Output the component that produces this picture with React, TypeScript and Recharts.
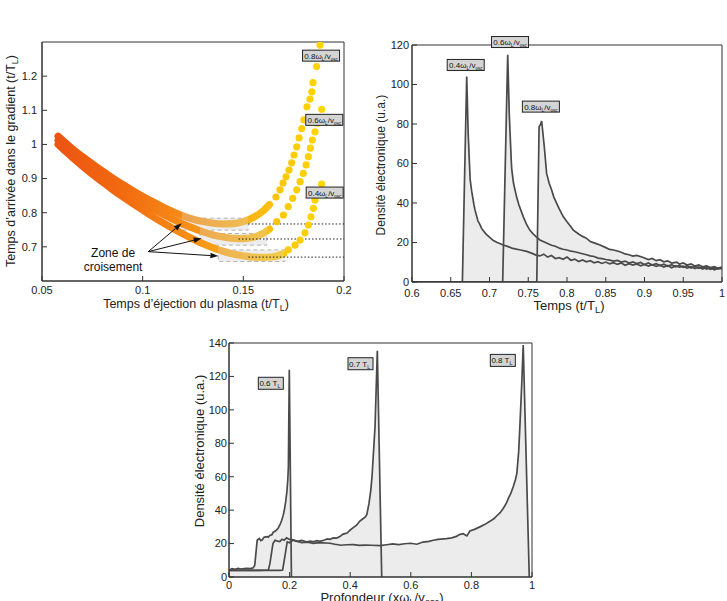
import React from "react";
import {
  Area,
  ComposedChart,
  Line,
  ReferenceArea,
  ReferenceDot,
  ReferenceLine,
  Scatter,
  XAxis,
  YAxis,
} from "recharts";

const FONT = "'Liberation Sans', Arial, Helvetica, sans-serif";
const AXIS = "#333";
const CURVE = "#4a4a4a";
const FILL = "#ececec";
const TICK = { fontSize: 11, fill: "#222", fontFamily: FONT };

type Pt = [number, number];

// ---- panel 1 : arrival time vs ejection time ----
const EJ_X_TICKS = [0.05, 0.1, 0.15, 0.2];
const EJ_Y_TICKS = [0.7, 0.8, 0.9, 1, 1.1, 1.2];

// dense part of each dotted curve (drawn as a thick band)
const BAND_08: Pt[] = [
  [0.058, 1.024], [0.062, 1.003], [0.066, 0.983], [0.07, 0.965], [0.075, 0.943], [0.08, 0.922],
  [0.085, 0.902], [0.09, 0.883], [0.095, 0.865], [0.1, 0.848], [0.105, 0.832], [0.11, 0.817],
  [0.115, 0.803], [0.12, 0.791], [0.125, 0.781], [0.13, 0.774], [0.135, 0.769], [0.14, 0.767],
  [0.145, 0.768], [0.15, 0.774], [0.155, 0.786], [0.16, 0.806], [0.163, 0.824],
];
const BAND_06: Pt[] = [
  [0.058, 1.012], [0.062, 0.991], [0.066, 0.971], [0.07, 0.952], [0.075, 0.929], [0.08, 0.907],
  [0.085, 0.886], [0.09, 0.866], [0.095, 0.847], [0.1, 0.829], [0.105, 0.812], [0.11, 0.796],
  [0.115, 0.781], [0.12, 0.767], [0.125, 0.755], [0.13, 0.744], [0.135, 0.735], [0.14, 0.729],
  [0.145, 0.725], [0.15, 0.724], [0.155, 0.728], [0.16, 0.74], [0.163, 0.752],
];
const BAND_04: Pt[] = [
  [0.058, 1.0], [0.062, 0.978], [0.066, 0.957], [0.07, 0.937], [0.075, 0.913], [0.08, 0.89],
  [0.085, 0.868], [0.09, 0.847], [0.095, 0.827], [0.1, 0.808], [0.105, 0.789], [0.11, 0.771],
  [0.115, 0.754], [0.12, 0.738], [0.125, 0.723], [0.13, 0.709], [0.135, 0.697], [0.14, 0.687],
  [0.145, 0.679], [0.15, 0.674], [0.155, 0.67], [0.16, 0.669], [0.165, 0.671], [0.17, 0.68],
];
// separated dots on the steep right-hand part
const DOTS_08: Pt[] = [
  [0.1662, 0.846], [0.1682, 0.867], [0.1697, 0.887], [0.1712, 0.905], [0.1727, 0.925],
  [0.174, 0.946], [0.1752, 0.969], [0.1765, 0.993], [0.1777, 1.019], [0.179, 1.046],
  [0.1801, 1.072], [0.1816, 1.11], [0.1831, 1.133], [0.184, 1.154], [0.1846, 1.181],
  [0.1864, 1.228], [0.1881, 1.291],
];
const DOTS_06: Pt[] = [
  [0.1666, 0.774], [0.1699, 0.793], [0.1723, 0.818], [0.1745, 0.842], [0.1765, 0.867],
  [0.1782, 0.891], [0.1798, 0.915], [0.1812, 0.94], [0.1823, 0.964], [0.1833, 0.989],
  [0.1843, 1.013], [0.1856, 1.037], [0.1866, 1.062], [0.1889, 1.103],
];
const DOTS_04: Pt[] = [
  [0.1723, 0.691], [0.1757, 0.705], [0.1782, 0.72], [0.1806, 0.741], [0.1823, 0.764],
  [0.1836, 0.788], [0.1848, 0.813], [0.1856, 0.837], [0.1889, 0.884],
];
const MIN_LEVELS = [0.767, 0.723, 0.67];
const MIN_STARTS = [0.1524, 0.1476, 0.1525];
const ZONES = [
  { x1: 0.1194, x2: 0.1524, y1: 0.749, y2: 0.784 },
  { x1: 0.1285, x2: 0.1616, y1: 0.705, y2: 0.739 },
  { x1: 0.1376, x2: 0.1707, y1: 0.657, y2: 0.691 },
];
const ARROW_FROM: Pt = [0.1028, 0.686];
const ARROW_TIPS: Pt[] = [[0.1194, 0.769], [0.1293, 0.725], [0.1376, 0.673]];
const EJ_TAGS = [
  { x: 0.1886, y: 1.26, v: "0.8" },
  { x: 0.1902, y: 1.072, v: "0.6" },
  { x: 0.1904, y: 0.859, v: "0.4" },
];

// ---- panel 2 : density vs time ----
const T_X_TICKS = [0.6, 0.65, 0.7, 0.75, 0.8, 0.85, 0.9, 0.95, 1];
const T_Y_TICKS = [0, 20, 40, 60, 80, 100, 120];
const TIME_04: Pt[] = [
  [0.6, 0], [0.665, 0], [0.6706, 104], [0.6725, 75], [0.675, 52], [0.677, 46], [0.68, 39],
  [0.6813, 36.5], [0.685, 31], [0.6877, 29], [0.69, 27], [0.695, 24.5], [0.7006, 22.5],
  [0.705, 21], [0.71, 20], [0.7178, 18.7], [0.725, 17.8], [0.73, 17], [0.74, 16.2], [0.748, 15.5],
  [0.755, 14.5], [0.76, 13.6], [0.765, 13.2], [0.77, 14.1], [0.775, 12.6], [0.78, 13.4],
  [0.785, 11.9], [0.79, 12.3], [0.795, 11.5], [0.8, 12.6], [0.805, 11], [0.81, 11.6], [0.815, 10.4],
  [0.82, 11.2], [0.825, 10.2], [0.83, 10.8], [0.835, 9.7], [0.84, 10.3], [0.845, 9.4], [0.85, 10.1],
  [0.855, 9.2], [0.86, 9.8], [0.865, 8.9], [0.87, 9.6], [0.875, 8.5], [0.88, 9.3], [0.885, 8.6],
  [0.89, 9.1], [0.895, 8.2], [0.9, 8.9], [0.905, 8.1], [0.91, 8.8], [0.915, 7.9], [0.92, 8.5],
  [0.925, 7.6], [0.93, 8.4], [0.935, 7.2], [0.94, 8.1], [0.945, 7.5], [0.95, 8.0], [0.955, 7.0],
  [0.96, 7.8], [0.965, 6.8], [0.97, 7.6], [0.975, 6.5], [0.98, 7.3], [0.985, 6.4], [0.99, 7.1],
  [0.995, 6.6], [1.0, 7.4],
];
const TIME_06: Pt[] = [
  [0.6, 0], [0.717, 0], [0.7235, 115], [0.7255, 85], [0.728, 62], [0.7287, 57], [0.731, 50],
  [0.735, 43], [0.738, 39], [0.7437, 33], [0.748, 29], [0.752, 26.3], [0.756, 24.5], [0.76, 23],
  [0.765, 21.3], [0.77, 20.4], [0.775, 19.5], [0.78, 18.6], [0.785, 18.1], [0.791, 17],
  [0.795, 16.6], [0.8, 16.2], [0.805, 15.6], [0.81, 15.3], [0.815, 14.8], [0.82, 14.3],
  [0.825, 13.8], [0.83, 13.2], [0.835, 12.9], [0.84, 12.1], [0.845, 11.8], [0.85, 11.4],
  [0.855, 11.1], [0.86, 10.6], [0.865, 10.9], [0.87, 10.1], [0.875, 10.6], [0.88, 9.6],
  [0.885, 10.2], [0.89, 9.3], [0.895, 9.9], [0.9, 8.8], [0.905, 9.6], [0.91, 8.6], [0.915, 9.3],
  [0.92, 8.3], [0.925, 9.0], [0.93, 8.0], [0.935, 8.8], [0.94, 7.7], [0.945, 8.4], [0.95, 7.4],
  [0.955, 8.2], [0.96, 7.1], [0.965, 7.9], [0.97, 6.9], [0.975, 7.6], [0.98, 6.6], [0.985, 7.3],
  [0.99, 6.2], [0.995, 6.9], [1.0, 6.8],
];
const TIME_08: Pt[] = [
  [0.6, 0], [0.761, 0], [0.764, 78.6], [0.7655, 79.5], [0.7673, 81.5], [0.7707, 68.5],
  [0.7737, 55], [0.777, 50], [0.7802, 46.6], [0.783, 43], [0.7867, 39.8], [0.79, 37],
  [0.7953, 33], [0.8, 30.5], [0.805, 28], [0.8082, 26.3], [0.815, 24.3], [0.82, 23.1],
  [0.8254, 22.1], [0.83, 20.5], [0.835, 19.8], [0.8426, 18.7], [0.85, 17.4], [0.855, 16.5],
  [0.86, 16.2], [0.8684, 15.3], [0.875, 14.2], [0.88, 13.8], [0.885, 13.1], [0.89, 13.5],
  [0.8985, 12.4], [0.905, 11.4], [0.91, 11.9], [0.915, 10.8], [0.92, 11.3], [0.925, 10.2],
  [0.93, 10.7], [0.935, 9.6], [0.9415, 10.1], [0.945, 9.1], [0.95, 9.7], [0.955, 8.6], [0.96, 9.2],
  [0.965, 8.1], [0.97, 8.7], [0.975, 7.7], [0.98, 8.2], [0.985, 7.3], [0.99, 7.8], [0.995, 7.0],
  [1.0, 7.5],
];
const TIME_TAGS = [
  { x: 0.6693, y: 109.9, v: "0.4" },
  { x: 0.7265, y: 121.5, v: "0.6" },
  { x: 0.7663, y: 88.8, v: "0.8" },
];

// ---- panel 3 : density vs depth ----
const P_X_TICKS = [0, 0.2, 0.4, 0.6, 0.8, 1];
const P_Y_TICKS = [0, 20, 40, 60, 80, 100, 120, 140];
const DEPTH_06: Pt[] = [
  [0, 4], [0.01, 5], [0.02, 4.6], [0.03, 5.1], [0.04, 4.8], [0.05, 5], [0.06, 5.2], [0.07, 5],
  [0.08, 5.5], [0.085, 7], [0.093, 22], [0.1, 23], [0.105, 21.8], [0.11, 22.3], [0.115, 23.6],
  [0.12, 24], [0.126, 24.2], [0.13, 23.8], [0.135, 25], [0.141, 25.2], [0.146, 26.8],
  [0.152, 27.3], [0.158, 28.3], [0.163, 29.5], [0.17, 32], [0.174, 34], [0.179, 37],
  [0.183, 40.5], [0.187, 45], [0.191, 51], [0.194, 58], [0.196, 66], [0.199, 124], [0.206, 0],
];
const DEPTH_07: Pt[] = [
  [0, 4], [0.05, 4], [0.1, 4], [0.13, 4.2], [0.135, 8], [0.145, 20], [0.152, 22], [0.16, 21.5],
  [0.168, 21.2], [0.175, 22.6], [0.182, 22], [0.19, 23.4], [0.2, 22.5], [0.212, 22.2],
  [0.225, 21.3], [0.24, 21.9], [0.255, 21.1], [0.27, 21.4], [0.278, 21], [0.29, 21.7], [0.3, 21.3],
  [0.315, 22.1], [0.325, 22.8], [0.333, 22.5], [0.345, 23.4], [0.355, 23.3], [0.366, 24.2],
  [0.375, 25.5], [0.385, 26.1], [0.39, 26.3], [0.399, 28], [0.41, 29.5], [0.421, 31],
  [0.432, 33.5], [0.443, 35], [0.45, 36], [0.455, 37.5], [0.462, 44], [0.468, 52], [0.472, 60],
  [0.476, 72], [0.482, 90], [0.4895, 135.4], [0.504, 0],
];
const DEPTH_08: Pt[] = [
  [0, 4], [0.1, 4], [0.17, 4], [0.177, 4.2], [0.185, 13], [0.192, 21], [0.2, 20.5], [0.21, 22],
  [0.223, 21.5], [0.24, 20.6], [0.26, 20.9], [0.278, 20.1], [0.3, 20.6], [0.333, 20.2],
  [0.35, 19.6], [0.37, 19], [0.388, 19.3], [0.41, 19.4], [0.43, 18.9], [0.45, 19.1], [0.47, 19],
  [0.498, 18.8], [0.52, 19.3], [0.54, 19.8], [0.56, 19.4], [0.58, 19.9], [0.6, 20.2], [0.62, 19.6],
  [0.64, 20.9], [0.66, 21.3], [0.674, 22], [0.69, 22.5], [0.718, 23], [0.735, 23.4], [0.751, 24.3],
  [0.76, 25.4], [0.773, 25.9], [0.785, 24.6], [0.795, 27.5], [0.81, 28.5], [0.828, 30],
  [0.845, 31.5], [0.861, 33.3], [0.875, 35], [0.883, 36.5], [0.895, 38.5], [0.905, 41],
  [0.915, 44], [0.922, 47], [0.93, 50], [0.938, 54], [0.945, 58], [0.95, 62], [0.956, 75],
  [0.96, 90], [0.966, 115], [0.971, 138.8], [0.991, 0],
];
const DEPTH_TAGS = [
  { x: 0.138, y: 115.9, v: "0.6" },
  { x: 0.434, y: 127.6, v: "0.7" },
  { x: 0.9037, y: 129.6, v: "0.8" },
];

const rows = (pts: Pt[]) => pts.map(([x, y]) => ({ x, y }));

// orange -> yellow colour along the ejection time
const COLOR_STOPS: [number, number[]][] = [
  [0.055, [236, 82, 18]],
  [0.09, [242, 106, 16]],
  [0.12, [246, 140, 22]],
  [0.15, [249, 176, 24]],
  [0.17, [252, 200, 10]],
  [0.19, [255, 214, 0]],
];
function rgbAt(x: number): number[] {
  if (x <= COLOR_STOPS[0][0]) return COLOR_STOPS[0][1];
  for (let i = 1; i < COLOR_STOPS.length; i++) {
    const [x0, c0] = COLOR_STOPS[i - 1];
    const [x1, c1] = COLOR_STOPS[i];
    if (x <= x1) {
      const t = (x - x0) / (x1 - x0);
      return c0.map((v, k) => Math.round(v + (c1[k] - v) * t));
    }
  }
  return COLOR_STOPS[COLOR_STOPS.length - 1][1];
}
const dotColor = (x: number) => `rgb(${rgbAt(x).join(",")})`;
// colour seen through the translucent grey crossing box
const veiled = (x: number) =>
  `rgb(${rgbAt(x).map((v) => Math.round(v * 0.7 + 215 * 0.3)).join(",")})`;

function BandGradient({ id, pts, zone }: { id: string; pts: Pt[]; zone: { x1: number; x2: number } }) {
  const x0 = pts[0][0];
  const x1 = pts[pts.length - 1][0];
  const off = (x: number) => Math.min(1, Math.max(0, (x - x0) / (x1 - x0)));
  const stops: { o: number; c: string }[] = [];
  pts.forEach(([x]) => {
    const inside = x > zone.x1 && x < zone.x2;
    stops.push({ o: off(x), c: inside ? veiled(x) : dotColor(x) });
  });
  stops.push({ o: off(zone.x1) - 0.0001, c: dotColor(zone.x1) });
  stops.push({ o: off(zone.x1), c: veiled(zone.x1) });
  stops.push({ o: off(zone.x2), c: veiled(zone.x2) });
  stops.push({ o: off(zone.x2) + 0.0001, c: dotColor(zone.x2) });
  stops.sort((a, b) => a.o - b.o);
  return (
    <linearGradient id={id} x1="0" y1="0" x2="1" y2="0">
      {stops.map((s, i) => (
        <stop key={i} offset={s.o} stopColor={s.c} />
      ))}
    </linearGradient>
  );
}

const dotShape = (p: any) => (
  <circle cx={p.cx} cy={p.cy} r={3.6} fill={dotColor(p.payload.x)} />
);

const arrowShape = (p: any) => {
  const { x1, y1, x2, y2 } = p;
  const a = Math.atan2(y2 - y1, x2 - x1);
  const L = 8;
  const W = 2.8;
  const bx = x2 - L * Math.cos(a);
  const by = y2 - L * Math.sin(a);
  const pts = `${x2},${y2} ${bx - W * Math.sin(a)},${by + W * Math.cos(a)} ${bx + W * Math.sin(a)},${by - W * Math.cos(a)}`;
  return (
    <g>
      <line x1={x1} y1={y1} x2={bx} y2={by} stroke="#111" strokeWidth={1} />
      <polygon points={pts} fill="#111" />
    </g>
  );
};

function omegaTag(v: string) {
  return (p: any) => (
    <g>
      <rect x={p.cx - 18.5} y={p.cy - 5.5} width={37} height={11} fill="#d4d4d4" stroke="#222" strokeWidth={1} />
      <text x={p.cx} y={p.cy + 3} textAnchor="middle" fontSize={8} fontFamily={FONT} fill="#111">
        {v}ω<tspan fontSize={5} dy={2}>L</tspan>
        <tspan dy={-2}>/v</tspan>
        <tspan fontSize={4.5} dy={2}>osc</tspan>
      </text>
    </g>
  );
}

function timeTag(v: string) {
  return (p: any) => (
    <g>
      <rect x={p.cx - 12.5} y={p.cy - 6} width={25} height={12} fill="#d4d4d4" stroke="#222" strokeWidth={1} />
      <text x={p.cx - 1} y={p.cy + 3} textAnchor="middle" fontSize={8} fontFamily={FONT} fill="#111">
        {v} T<tspan fontSize={5} dy={2}>L</tspan>
      </text>
    </g>
  );
}

const textShape = (s: string) => (p: any) => (
  <text x={p.cx} y={p.cy + 4} textAnchor="middle" fontSize={12} fontFamily={FONT} fill="#111">
    {s}
  </text>
);

function Title({ x, y, rotate, size, children }: { x: number; y: number; rotate?: boolean; size: number; children: React.ReactNode }) {
  return (
    <div
      style={{
        position: "absolute",
        left: x,
        top: y,
        transform: `translate(-50%, -50%)${rotate ? " rotate(-90deg)" : ""}`,
        whiteSpace: "nowrap",
        fontFamily: FONT,
        fontSize: size,
        color: "#222",
        lineHeight: 1,
      }}
    >
      {children}
    </div>
  );
}

const Sub = ({ children }: { children: React.ReactNode }) => (
  <span style={{ fontSize: "0.72em", position: "relative", top: "0.35em" }}>{children}</span>
);

const fmt = (v: number) => String(v);

export default function App() {
  return (
    <div style={{ position: "absolute", left: 0, top: 0, width: 727, height: 601, overflow: "hidden", background: "#fff" }}>
      {/* ---------- panel 1 ---------- */}
      <div style={{ position: "absolute", left: 0, top: 30 }}>
        <ComposedChart width={360} height={285} margin={{ top: 12, right: 16, bottom: 0, left: 0 }}>
          <defs>
            <BandGradient id="g08" pts={BAND_08} zone={ZONES[0]} />
            <BandGradient id="g06" pts={BAND_06} zone={ZONES[1]} />
            <BandGradient id="g04" pts={BAND_04} zone={ZONES[2]} />
          </defs>
          <XAxis type="number" dataKey="x" domain={[0.05, 0.2]} ticks={EJ_X_TICKS} interval={0} height={34}
            tickSize={-5} tickMargin={10} stroke={AXIS} tick={TICK} tickFormatter={fmt} allowDataOverflow />
          <XAxis xAxisId="t" orientation="top" type="number" dataKey="x" domain={[0.05, 0.2]} ticks={EJ_X_TICKS}
            interval={0} height={0} tickSize={-5} tick={false} stroke={AXIS} allowDataOverflow />
          <YAxis type="number" domain={[0.6, 1.3]} ticks={EJ_Y_TICKS} interval={0} width={42}
            tickSize={-5} tickMargin={10} stroke={AXIS} tick={TICK} tickFormatter={fmt} allowDataOverflow />
          <YAxis yAxisId="r" orientation="right" type="number" domain={[0.6, 1.3]} ticks={EJ_Y_TICKS}
            interval={0} width={0} tickSize={-5} tick={false} stroke={AXIS} allowDataOverflow />
          <Line xAxisId="t" yAxisId="r" data={rows(BAND_08)} dataKey="y" stroke="none" dot={false}
            activeDot={false} isAnimationActive={false} />
          <ReferenceArea x1={0.05} x2={0.2} y1={0.6} y2={1.3} fill="none" stroke={AXIS} strokeWidth={1} />
          {ZONES.map((z, i) => (
            <ReferenceArea key={i} x1={z.x1} x2={z.x2} y1={z.y1} y2={z.y2} fill="#dcdcdc" fillOpacity={0.5}
              stroke="#b5b5b5" strokeDasharray="4 3" strokeWidth={1} />
          ))}
          {[BAND_08, BAND_06, BAND_04].map((b, i) => (
            <Line key={i} data={rows(b)} dataKey="y" type="monotone" stroke={`url(#${["g08", "g06", "g04"][i]})`}
              strokeWidth={7.2} strokeLinecap="round" strokeLinejoin="round" dot={false} activeDot={false}
              isAnimationActive={false} />
          ))}
          {[DOTS_08, DOTS_06, DOTS_04].map((d, i) => (
            <Scatter key={i} data={rows(d)} dataKey="y" shape={dotShape} isAnimationActive={false} />
          ))}
          {MIN_LEVELS.map((y, i) => (
            <ReferenceLine key={i} segment={[{ x: MIN_STARTS[i], y }, { x: 0.2, y }]} stroke="#222"
              strokeDasharray="1.5 2" strokeWidth={1} />
          ))}
          {ARROW_TIPS.map((t, i) => (
            <ReferenceLine key={i} segment={[{ x: ARROW_FROM[0], y: ARROW_FROM[1] }, { x: t[0], y: t[1] }]}
              shape={arrowShape} />
          ))}
          <ReferenceDot x={0.0853} y={0.683} r={0} shape={textShape("Zone de")} ifOverflow="visible" />
          <ReferenceDot x={0.0853} y={0.642} r={0} shape={textShape("croisement")} ifOverflow="visible" />
          {EJ_TAGS.map((t) => (
            <ReferenceDot key={t.v} x={t.x} y={t.y} r={0} shape={omegaTag(t.v)} ifOverflow="visible" />
          ))}
        </ComposedChart>
      </div>
      <Title x={11} y={161} rotate size={12.5}>
        Temps d’arrivée dans le gradient (t/T<Sub>L</Sub>)
      </Title>
      <Title x={196} y={304} size={12.5}>
        Temps d’éjection du plasma (t/T<Sub>L</Sub>)
      </Title>

      {/* ---------- panel 2 ---------- */}
      <div style={{ position: "absolute", left: 360, top: 30 }}>
        <ComposedChart width={367} height={285} margin={{ top: 15, right: 5, bottom: 0, left: 0 }}>
          <XAxis type="number" dataKey="x" domain={[0.6, 1]} ticks={T_X_TICKS} interval={0} height={33}
            tickSize={-5} tickMargin={12} stroke={AXIS} tick={TICK} tickFormatter={fmt} allowDataOverflow />
          <XAxis xAxisId="t" orientation="top" type="number" dataKey="x" domain={[0.6, 1]} ticks={T_X_TICKS}
            interval={0} height={0} tickSize={-5} tick={false} stroke={AXIS} allowDataOverflow />
          <YAxis type="number" domain={[0, 120]} ticks={T_Y_TICKS} interval={0} width={52}
            tickSize={-5} tickMargin={8} stroke={AXIS} tick={TICK} tickFormatter={fmt} allowDataOverflow />
          <YAxis yAxisId="r" orientation="right" type="number" domain={[0, 120]} ticks={T_Y_TICKS}
            interval={0} width={0} tickSize={-5} tick={false} stroke={AXIS} allowDataOverflow />
          <Line xAxisId="t" yAxisId="r" data={rows(TIME_04)} dataKey="y" stroke="none" dot={false}
            activeDot={false} isAnimationActive={false} />
          {[TIME_04, TIME_06, TIME_08].map((d, i) => (
            <Area key={`a${i}`} data={rows(d)} dataKey="y" type="linear" fill={FILL} fillOpacity={1} stroke="none"
              isAnimationActive={false} />
          ))}
          {[TIME_04, TIME_06, TIME_08].map((d, i) => (
            <Line key={`l${i}`} data={rows(d)} dataKey="y" type="linear" stroke={CURVE} strokeWidth={1.7}
              dot={false} activeDot={false} isAnimationActive={false} />
          ))}
          <ReferenceArea x1={0.6} x2={1} y1={0} y2={120} fill="none" stroke={AXIS} strokeWidth={1} />
          {TIME_TAGS.map((t) => (
            <ReferenceDot key={t.v} x={t.x} y={t.y} r={0} shape={omegaTag(t.v)} ifOverflow="visible" />
          ))}
        </ComposedChart>
      </div>
      <Title x={381} y={165} rotate size={12}>
        Densité électronique (u.a.)
      </Title>
      <Title x={569} y={306} size={13}>
        Temps (t/T<Sub>L</Sub>)
      </Title>

      {/* ---------- panel 3 ---------- */}
      <div style={{ position: "absolute", left: 180, top: 330 }}>
        <ComposedChart width={367} height={271} margin={{ top: 13, right: 15, bottom: 0, left: 0 }}>
          <XAxis type="number" dataKey="x" domain={[0, 1]} ticks={P_X_TICKS} interval={0} height={24}
            tickSize={-5} tickMargin={9} stroke={AXIS} tick={TICK} tickFormatter={fmt} allowDataOverflow />
          <XAxis xAxisId="t" orientation="top" type="number" dataKey="x" domain={[0, 1]} ticks={P_X_TICKS}
            interval={0} height={0} tickSize={-5} tick={false} stroke={AXIS} allowDataOverflow />
          <YAxis type="number" domain={[0, 140]} ticks={P_Y_TICKS} interval={0} width={49}
            tickSize={-5} tickMargin={7} stroke={AXIS} tick={TICK} tickFormatter={fmt} allowDataOverflow />
          <YAxis yAxisId="r" orientation="right" type="number" domain={[0, 140]} ticks={P_Y_TICKS}
            interval={0} width={0} tickSize={-5} tick={false} stroke={AXIS} allowDataOverflow />
          <Line xAxisId="t" yAxisId="r" data={rows(DEPTH_06)} dataKey="y" stroke="none" dot={false}
            activeDot={false} isAnimationActive={false} />
          {[DEPTH_06, DEPTH_07, DEPTH_08].map((d, i) => (
            <Area key={`a${i}`} data={rows(d)} dataKey="y" type="linear" fill={FILL} fillOpacity={1} stroke="none"
              isAnimationActive={false} />
          ))}
          {[DEPTH_06, DEPTH_07, DEPTH_08].map((d, i) => (
            <Line key={`l${i}`} data={rows(d)} dataKey="y" type="linear" stroke={CURVE} strokeWidth={1.7}
              dot={false} activeDot={false} isAnimationActive={false} />
          ))}
          <ReferenceArea x1={0} x2={1} y1={0} y2={140} fill="none" stroke={AXIS} strokeWidth={1} />
          {DEPTH_TAGS.map((t) => (
            <ReferenceDot key={t.v} x={t.x} y={t.y} r={0} shape={timeTag(t.v)} ifOverflow="visible" />
          ))}
        </ComposedChart>
      </div>
      <Title x={199} y={451} rotate size={13}>
        Densité électronique (u.a.)
      </Title>
      <Title x={382} y={598} size={13}>
        Profondeur (xω<Sub>L</Sub>/v<Sub>osc</Sub>)
      </Title>
    </div>
  );
}
